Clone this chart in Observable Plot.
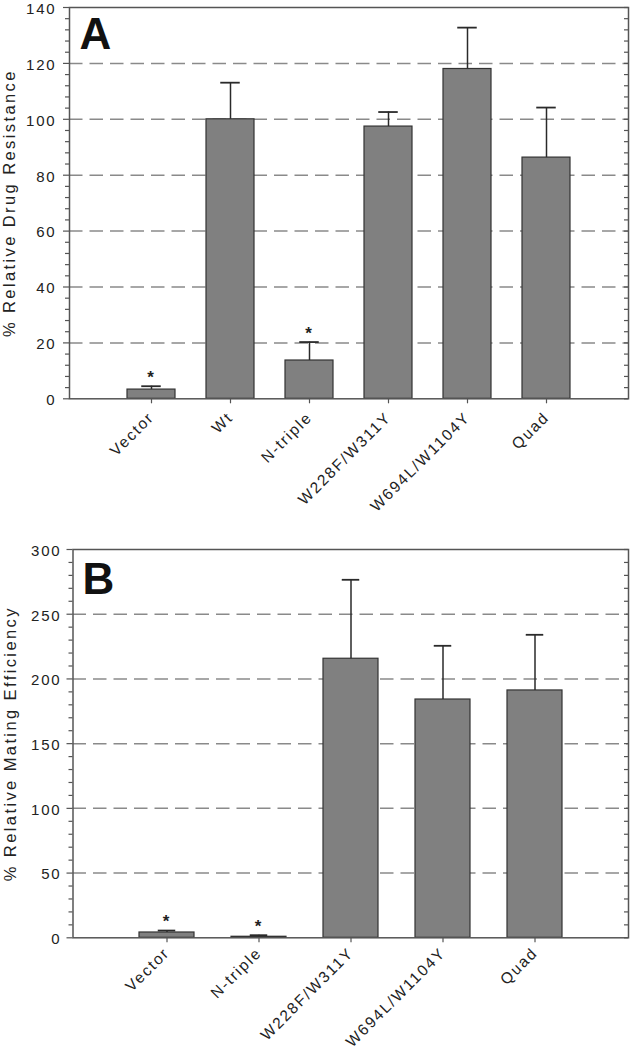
<!DOCTYPE html>
<html>
<head>
<meta charset="utf-8">
<script src="https://cdn.jsdelivr.net/npm/d3@7"></script>
<script src="https://cdn.jsdelivr.net/npm/@observablehq/plot@0.6"></script>
<style>
  body { margin: 0; background: #fff; }
  #chart { width: 631px; }
  #chart svg { display: block; }
</style>
</head>
<body>
<div id="chart"></div>
<script>
// Panel A: % Relative Drug Resistance
const catsA = ["Vector", "Wt", "N-triple", "W228F/W311Y", "W694L/W1104Y", "Quad"];
const valuesA = [3.3, 100, 13.7, 97.4, 118, 86.3];
const errorsA = [1.2, 13.1, 6.6, 5.2, 14.8, 17.9];
const starsA = ["*", "", "*", "", "", ""];
const ticksA = [0, 20, 40, 60, 80, 100, 120, 140];
const titleA = "% Relative Drug Resistance";
const letterA = "A";

// Panel B: % Relative Mating Efficiency
const catsB = ["Vector", "N-triple", "W228F/W311Y", "W694L/W1104Y", "Quad"];
const valuesB = [4.1, 0.8, 215.6, 184.1, 191.1];
const errorsB = [1.5, 1.2, 61, 41.5, 43];
const starsB = ["*", "*", "", "", ""];
const ticksB = [0, 50, 100, 150, 200, 250, 300];
const titleB = "% Relative Mating Efficiency";
const letterB = "B";

const FONT = "'Liberation Sans', Arial, Helvetica, sans-serif";

function panel(cfg) {
  const data = cfg.cats.map((c, i) => ({cat: c, value: cfg.values[i], err: cfg.errors[i], star: cfg.stars[i]}));
  const ymax = cfg.ticks[cfg.ticks.length - 1];
  const major = cfg.ticks;
  const minor = d3.range(0, ymax + 1e-9, cfg.minorStep).filter(v => !major.some(m => Math.abs(m - v) < 1e-9));
  const grid = major.filter(v => v > 0 && v < ymax);
  const frameW = cfg.width - cfg.marginLeft - cfg.marginRight;
  const svg = Plot.plot({
    width: cfg.width,
    height: cfg.height,
    marginLeft: cfg.marginLeft,
    marginRight: cfg.marginRight,
    marginTop: cfg.marginTop,
    marginBottom: cfg.marginBottom,
    style: {fontFamily: FONT, fontSize: "15px", color: "#2a2a2a", background: "#fff", letterSpacing: "1.8px"},
    x: {type: "band", domain: cfg.cats, paddingInner: cfg.pi, paddingOuter: cfg.po, align: 0.5},
    y: {domain: [0, ymax]},
    marks: [
      Plot.ruleY(grid, {stroke: "#8a8a8a", strokeWidth: 1.5, strokeDasharray: "13.5,7"}),
      Plot.barY(data, {x: "cat", y: "value", fill: "#808080", stroke: "#333", strokeWidth: 1.2}),
      Plot.ruleX(data, {x: "cat", y1: "value", y2: d => d.value + d.err, stroke: "#2a2a2a", strokeWidth: 1.5}),
      Plot.tickY(data, {x: "cat", y: d => d.value + d.err, insetLeft: cfg.capInset, insetRight: cfg.capInset, stroke: "#2a2a2a", strokeWidth: 1.8}),
      Plot.text(data.filter(d => d.star), {x: "cat", y: d => d.value + d.err, text: "star", dy: -9, fontSize: 17, fontWeight: "bold", fill: "#222"}),
      Plot.frame({stroke: "#555", strokeWidth: 1.5}),
      Plot.axisY(major, {tickSize: 6, tickFormat: () => "", label: null, strokeWidth: 1.2, stroke: "#555"}),
      Plot.text(major, {y: d => d, text: d => String(d), frameAnchor: "left", textAnchor: "end", lineAnchor: "middle", dx: -(6 + cfg.tickPadding), dy: 1.5, fontSize: 15, fill: "#222"}),
      Plot.axisY(minor, {tickSize: 4, tickFormat: () => "", label: null, strokeWidth: 1.2, stroke: "#555"}),
      Plot.ruleY(major.concat(minor), {insetLeft: frameW - 4, stroke: "#555", strokeWidth: 1.2}),
      Plot.axisX({tickSize: 5, tickFormat: () => "", label: null, stroke: "#555", strokeWidth: 1.2}),
      Plot.text(cfg.cats, {x: d => d, text: d => d, frameAnchor: "bottom", rotate: -45, textAnchor: "end", lineAnchor: "middle", dx: 0, dy: cfg.labelDy, fontSize: 15.5, fill: "#222"}),
      Plot.text([cfg.letter], {text: d => d, frameAnchor: "top-left", textAnchor: "start", lineAnchor: "top", dx: cfg.letterDx, dy: cfg.letterDy, fontSize: 44, fontWeight: "bold", fill: "#111"}),
      Plot.text([cfg.title], {text: d => d, frameAnchor: "left", rotate: -90, textAnchor: "middle", lineAnchor: "middle", dx: cfg.titleDx, fontSize: 16.5, fill: "#222"})
    ]
  });
  d3.select(svg).selectAll("text").filter(function() { return this.textContent === cfg.title; }).style("letter-spacing", "2.4px");
  return svg;
}

const chart = document.getElementById("chart");
chart.appendChild(panel({
  cats: catsA, values: valuesA, errors: errorsA, stars: starsA, ticks: ticksA, minorStep: 4,
  title: titleA, letter: letterA,
  width: 631, height: 520, marginLeft: 69, marginRight: 3, marginTop: 7, marginBottom: 121.7,
  pi: 0.393, po: 0.6965, capInset: 14.25, letterDx: 10, letterDy: 10, titleDx: -59.5,
  tickPadding: 7, labelDy: 16
}));
chart.appendChild(panel({
  cats: catsB, values: valuesB, errors: errorsB, stars: starsB, ticks: ticksB, minorStep: 10,
  title: titleB, letter: letterB,
  width: 631, height: 530, marginLeft: 72.5, marginRight: 3, marginTop: 29, marginBottom: 112.7,
  pi: 0.4, po: 0.7, capInset: 18.75, letterDx: 9.5, letterDy: 13, titleDx: -62.5,
  tickPadding: 5.5, labelDy: 12.5
}));
</script>
</body>
</html>
